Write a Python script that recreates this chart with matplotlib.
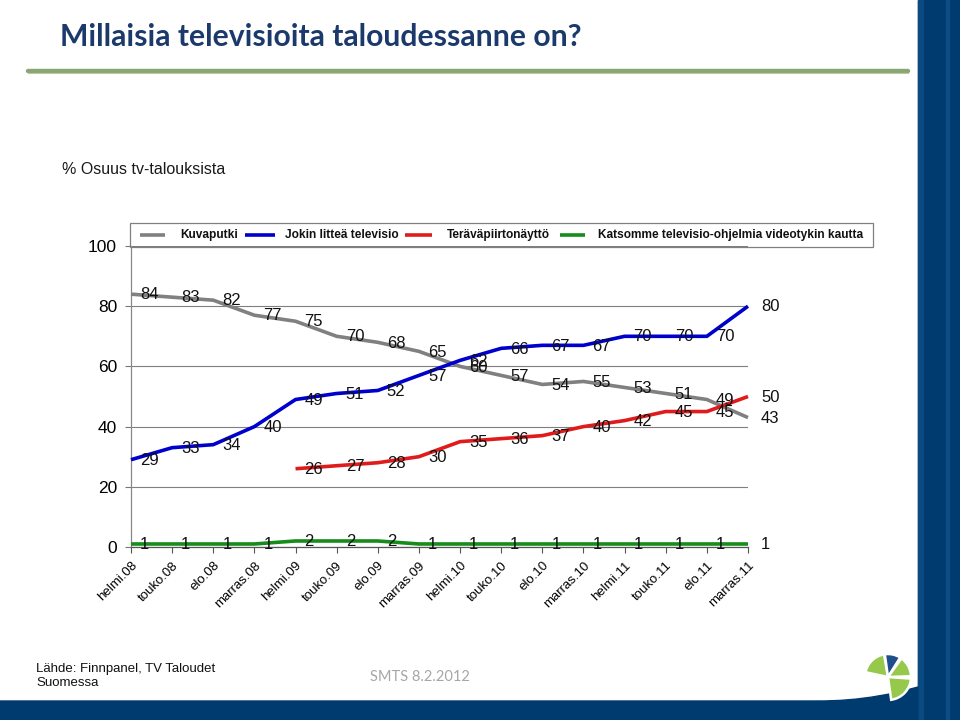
import matplotlib
matplotlib.use("Agg")
import matplotlib.pyplot as plt
from matplotlib.patches import Rectangle, Wedge, Polygon
import numpy as np

# ---------------- data ----------------
categories = ["helmi.08", "touko.08", "elo.08", "marras.08", "helmi.09", "touko.09",
              "elo.09", "marras.09", "helmi.10", "touko.10", "elo.10", "marras.10",
              "helmi.11", "touko.11", "elo.11", "marras.11"]
kuvaputki = [84, 83, 82, 77, 75, 70, 68, 65, 60, 57, 54, 55, 53, 51, 49, 43]
litteä = [29, 33, 34, 40, 49, 51, 52, 57, 62, 66, 67, 67, 70, 70, 70, 80]
hd = [None, None, None, None, 26, 27, 28, 30, 35, 36, 37, 40, 42, 45, 45, 50]
videotykki = [1, 1, 1, 1, 2, 2, 2, 1, 1, 1, 1, 1, 1, 1, 1, 1]
series_names = ["Kuvaputki", "Jokin litteä televisio", "Teräväpiirtonäyttö",
                "Katsomme televisio-ohjelmia videotykin kautta"]
series_colors = ["#808080", "#0000CC", "#E01B1B", "#168C1A"]
yticks = [0, 20, 40, 60, 80, 100]

W, H = 960, 720
fig = plt.figure(figsize=(9.6, 7.2), dpi=100)
fig.patch.set_facecolor("white")

def fx(px):
    return px / W

def fy(py):
    return 1 - py / H

# ---------------- decorations ----------------
deco = fig.add_axes([0, 0, 1, 1], zorder=0)
deco.set_xlim(0, W)
deco.set_ylim(H, 0)
deco.axis("off")
# right bar
deco.add_patch(Rectangle((918, 0), 42, H, color="#003B6F"))
deco.add_patch(Rectangle((918, 0), 5, H, color="#0A4A80"))
deco.add_patch(Rectangle((946, 0), 3, H, color="#0D4C84"))
# bottom bar with slight curve
xs = np.linspace(0, 918, 60)
top = 701 - 14 * np.clip((xs - 820) / 98, 0, 1) ** 2
poly = np.vstack([np.column_stack([xs, top]), [[918, H], [0, H]]])
deco.add_patch(Polygon(poly, closed=True, color="#003B6F"))
# green line under title
deco.plot([28, 908], [71, 71], color="#8BA673", lw=3.2, solid_capstyle="round")
deco.plot([28, 908], [73, 73], color="#B8C8A8", lw=0.8)
# logo
cx, cy, r = 888, 677, 23
logo_specs = [(100, 168, "#96C84B"), (58, 98, "#1F4E8C"), (2, 54, "#96C84B"), (-82, -4, "#96C84B")]
for t1, t2, c in logo_specs:
    deco.add_patch(Wedge((cx, cy), r, -t2, -t1, color=c, ec="white", lw=1.8))

# title
title = fig.text(fx(60), fy(37), "Millaisia televisioita taloudessanne on?",
                 fontsize=22, fontweight="bold", color="#1B3A6B", family=["Lato", "DejaVu Sans"],
                 ha="left", va="center")
fig.canvas.draw()
bb = title.get_window_extent(fig.canvas.get_renderer())
title.set_fontsize(22 * 520 / bb.width)

fig.text(fx(62), fy(170), "% Osuus tv-talouksista", fontsize=11.5, family="Liberation Sans",
         ha="left", va="center", color="#1A1A1A")
fig.text(fx(36), fy(676), "Lähde: Finnpanel, TV Taloudet\nSuomessa", fontsize=9.5,
         family="Liberation Sans", ha="left", va="center",
         linespacing=1.15, color="#111111")
fig.text(fx(370), fy(677), "SMTS 8.2.2012", fontsize=10.5, family=["Lato", "DejaVu Sans"],
         ha="left", va="center", color="#A6A6A6")

# ---------------- legend (manual, pixel layout as in reference) ----------------
deco.add_patch(Rectangle((130, 223), 743, 24, fill=False, ec="#808080", lw=0.9, zorder=6))
handle_x = [(140, 165), (245, 275), (405, 432), (560, 585)]
text_x = [180, 285, 447, 598]
for (h1, h2), tx, name, col in zip(handle_x, text_x, series_names, series_colors):
    deco.plot([h1, h2], [235, 235], color=col, lw=2.6, zorder=6, solid_capstyle="butt")
    deco.text(tx, 235, name, fontsize=8.6, fontweight="bold", family="Liberation Sans",
              ha="left", va="center", color="#111111", zorder=6)

# ---------------- chart ----------------
ax = fig.add_axes([fx(131), fy(547), fx(748 - 131), (547 - 246) / H], zorder=2)
ax.set_facecolor("none")
x = np.arange(len(categories))
all_series = [kuvaputki, litteä, hd, videotykki]
for vals, name, col in zip(all_series, series_names, series_colors):
    xv = [i for i, v in zip(x, vals) if v is not None]
    yv = [v for v in vals if v is not None]
    ax.plot(xv, yv, color=col, lw=2.6, label=name, solid_joinstyle="round",
            solid_capstyle="butt", zorder=3, clip_on=False)
    for xi, yi in zip(xv, yv):
        dx = 13 if xi == len(categories) - 1 else 9
        ax.annotate(str(yi), (xi, yi), xytext=(dx * 0.72, -0.5), textcoords="offset points",
                    ha="left", va="center", fontsize=12, family="Liberation Sans",
                    color="#111111", zorder=4, annotation_clip=False)

ax.set_xlim(0, len(categories) - 1)
ax.set_ylim(0, 100)
ax.set_yticks(yticks)
ax.set_yticklabels([str(v) for v in yticks], fontsize=12.5, family="Liberation Sans")
ax.set_xticks(x)
ax.set_xticklabels(categories, rotation=45, ha="right", va="top", rotation_mode="anchor",
                   fontsize=9.5, family="Liberation Sans")
ax.tick_params(axis="x", length=4, color="#555555", pad=5)
ax.tick_params(axis="y", length=4, color="#777777", pad=6)
for s in ["top", "right"]:
    ax.spines[s].set_visible(False)
ax.spines["left"].set_color("#888888")
ax.spines["bottom"].set_color("#555555")
ax.spines["left"].set_linewidth(0.9)
ax.spines["bottom"].set_linewidth(0.9)
ax.yaxis.grid(True, color="#7F7F7F", lw=0.8)
ax.set_axisbelow(True)

fig.savefig("out.png", dpi=100, facecolor="white")
